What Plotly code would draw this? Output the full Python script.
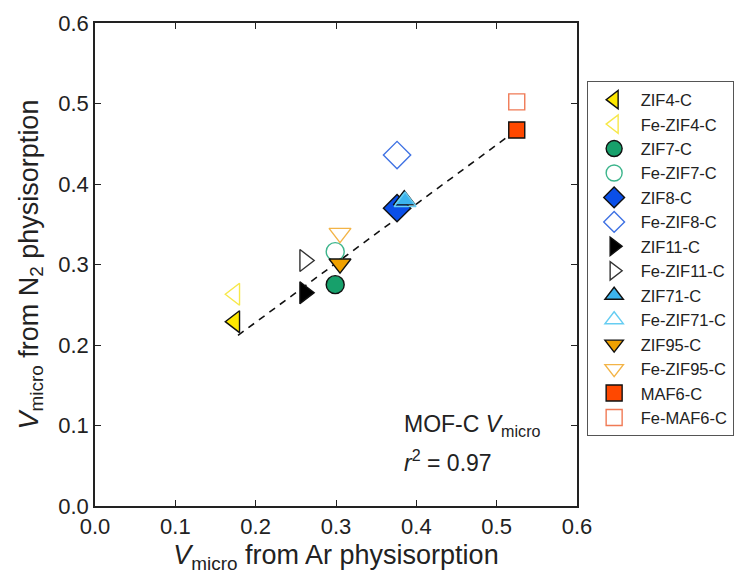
import plotly.graph_objects as go

names = ["ZIF4-C", "Fe-ZIF4-C", "ZIF7-C", "Fe-ZIF7-C", "ZIF8-C", "Fe-ZIF8-C",
         "ZIF11-C", "Fe-ZIF11-C", "ZIF71-C", "Fe-ZIF71-C", "ZIF95-C", "Fe-ZIF95-C",
         "MAF6-C", "Fe-MAF6-C"]
v_ar = [0.174, 0.174, 0.299, 0.299, 0.376, 0.376, 0.261, 0.261, 0.385, 0.386,
        0.305, 0.305, 0.525, 0.525]
v_n2 = [0.229, 0.263, 0.275, 0.316, 0.370, 0.436, 0.265, 0.305, 0.380, 0.378,
        0.301, 0.339, 0.467, 0.502]
fit_x = [0.178, 0.525]
fit_y = [0.212, 0.467]

symbols = ["triangle-left", "triangle-left-open", "circle", "circle-open",
           "diamond", "diamond-open", "triangle-right", "triangle-right-open",
           "triangle-up", "triangle-up-open", "triangle-down", "triangle-down-open",
           "square", "square-open"]
fills = ["#FFE800", "#F7E84A", "#17A06B", "#3DB58C", "#0A4FE8", "#3F72E3",
         "#000000", "#333333", "#3CB4EE", "#66CDF2", "#F0A100", "#F3B447",
         "#FF4800", "#F07A55"]
sizes = [19, 19, 18, 18, 21, 21, 19, 19, 19, 19, 19, 19, 16, 16]

fig = go.Figure()
fig.add_trace(go.Scatter(x=fit_x, y=fit_y, mode="lines",
                         line=dict(color="#111111", width=1.6, dash="7px,6px"),
                         showlegend=False, hoverinfo="skip"))
for i, n in enumerate(names):
    is_open = symbols[i].endswith("open")
    if is_open:
        marker = dict(symbol=symbols[i], size=sizes[i], color=fills[i],
                      line=dict(color=fills[i], width=1.4))
    else:
        marker = dict(symbol=symbols[i], size=sizes[i], color=fills[i],
                      line=dict(color="#111111", width=1.4))
    fig.add_trace(go.Scatter(x=[v_ar[i]], y=[v_n2[i]], mode="markers", name=n,
                             marker=marker))

axis_common = dict(range=[0, 0.6], dtick=0.1, tick0=0, tickformat=".1f",
                   showgrid=False, zeroline=False, showline=True, mirror="ticks",
                   linecolor="#222222", linewidth=1.5, ticks="inside",
                   ticklen=6, tickwidth=1.2, tickcolor="#222222",
                   tickfont=dict(family="Liberation Sans, Arial", size=22, color="#222222"))

fig.update_layout(
    width=746, height=577,
    margin=dict(l=95, r=167, t=23, b=71),
    paper_bgcolor="white", plot_bgcolor="white",
    font=dict(family="Liberation Sans, Arial", color="#222222"),
    xaxis=dict(**axis_common,
               title=dict(text="<i>V</i><sub>micro</sub> from Ar physisorption",
                          font=dict(size=27), standoff=7)),
    yaxis=dict(**axis_common,
               title=dict(text="<i>V</i><sub>micro</sub> from N<sub>2</sub> physisorption",
                          font=dict(size=27), standoff=12)),
    legend=dict(x=1.02, y=0.879, xanchor="left", yanchor="top",
                bordercolor="#555555", borderwidth=1, bgcolor="white",
                font=dict(size=16.5, color="#222222"), tracegroupgap=0,
                itemwidth=43),
    annotations=[
        dict(x=0.382, y=0.1006, xref="x", yref="y", xanchor="left", yanchor="middle",
             text="MOF-C <i>V</i><sub>micro</sub>", showarrow=False,
             font=dict(size=23, color="#222222")),
        dict(x=0.382, y=0.056, xref="x", yref="y", xanchor="left", yanchor="middle",
             text="<i>r</i><sup>2</sup> = 0.97", showarrow=False,
             font=dict(size=23, color="#222222")),
    ],
)

fig.write_html("out.html", config={"displayModeBar": False},
               post_script="document.body.style.margin='0';document.body.style.overflow='hidden';")
